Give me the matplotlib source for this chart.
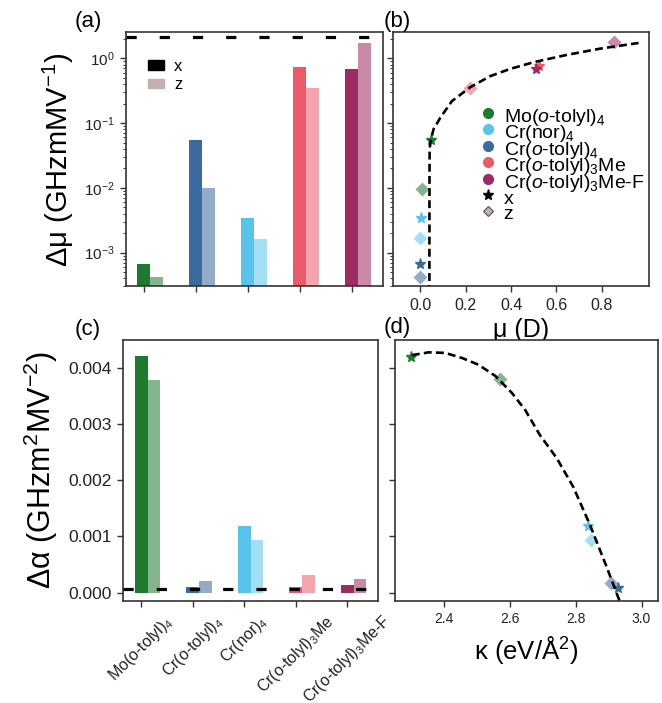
import matplotlib
matplotlib.use('Agg')
import matplotlib.pyplot as plt
from matplotlib.patches import Patch
from matplotlib.lines import Line2D

plt.rcParams['font.family'] = ['Liberation Sans', 'DejaVu Sans']
plt.rcParams['mathtext.fontset'] = 'custom'
plt.rcParams['mathtext.rm'] = 'Liberation Sans'
plt.rcParams['mathtext.it'] = 'Liberation Sans:italic'
plt.rcParams['mathtext.bf'] = 'Liberation Sans:bold'

# ---------------- data ----------------
tick_names = ['Mo(o-tolyl)$_4$', 'Cr(o-tolyl)$_4$', 'Cr(nor)$_4$',
              'Cr(o-tolyl)$_3$Me', 'Cr(o-tolyl)$_3$Me-F']
legend_names = ['Mo($o$-tolyl)$_4$', 'Cr($o$-tolyl)$_4$', 'Cr(nor)$_4$',
                'Cr($o$-tolyl)$_3$Me', 'Cr($o$-tolyl)$_3$Me-F']
colors = ['#1e7a2e', '#3b6a9d', '#58c3eb', '#eb5a6b', '#9d2a62']

# panel (a): dipole change (log)
dmu_x = [6.7e-4, 0.054, 3.4e-3, 0.745, 0.68]
dmu_z = [4.2e-4, 0.0098, 1.65e-3, 0.35, 1.74]
dmu_ref = 2.15

# panel (c): polarizability change
dalpha_x = [0.0042, 0.000107, 0.00119, 0.000100, 0.000137]
dalpha_z = [0.00378, 0.00021, 0.00094, 0.00032, 0.000243]
dalpha_ref = 0.00006

# panel (b): mu vs dmu (per compound, same order as above)
b_mu_x = [0.046, 0.000, 0.002, 0.522, 0.511]
b_dmu_x = [0.054, 6.7e-4, 3.46e-3, 0.77, 0.687]
b_mu_z = [0.009, 0.000, 0.000, 0.220, 0.853]
b_dmu_z = [0.0095, 4.2e-4, 1.66e-3, 0.35, 1.76]
fit_b_mu = [0.0395, 0.0398, 0.0402, 0.0407, 0.046, 0.0575, 0.0796, 0.087,
            0.139, 0.220, 0.308, 0.396, 0.500, 0.647, 0.794, 0.962]
fit_b_dmu = [1.0e-4, 6.5e-3, 0.025, 0.041, 0.054, 0.080, 0.108, 0.120,
             0.218, 0.358, 0.530, 0.685, 0.870, 1.13, 1.41, 1.72]

# panel (d): kappa vs dalpha (first three compounds)
d_kappa_x = [2.302, 2.929, 2.838]
d_alpha_x = [0.00419, 0.000089, 0.00119]
d_kappa_z = [2.572, 2.907, 2.847]
d_alpha_z = [0.00379, 0.000178, 0.00094]
fit_d_kappa = [2.304, 2.355, 2.405, 2.456, 2.506, 2.557, 2.607, 2.647,
               2.692, 2.743, 2.793, 2.844, 2.894, 2.940]
fit_d_alpha = [0.00422, 0.00427, 0.00426, 0.00417, 0.00405, 0.00385, 0.00355,
               0.00325, 0.00280, 0.00239, 0.00188, 0.00120, 0.00046, -0.00025]

bar_w = 0.25
z_alpha = 0.55
spine_c = '#333333'

fig = plt.figure(figsize=(6.62, 7.03), dpi=100)
axa = fig.add_axes([0.190, 0.5925, 0.3885, 0.3613])
axb = fig.add_axes([0.594, 0.5925, 0.387, 0.3613], sharey=axa)
axc = fig.add_axes([0.186, 0.1451, 0.385, 0.3713])
axd = fig.add_axes([0.5967, 0.1451, 0.3968, 0.3713], sharey=axc)

for ax in (axa, axb, axc, axd):
    for s in ax.spines.values():
        s.set_color(spine_c)
        s.set_linewidth(1.2)
    ax.tick_params(which='both', color=spine_c, labelcolor='#222222')
    ax.tick_params(which='major', length=4.5, width=1.0)
    ax.tick_params(which='minor', length=2.5, width=0.7)

pos = list(range(len(tick_names)))

# ---- (a)
for i in pos:
    axa.bar(i, dmu_x[i], bar_w, color=colors[i])
    axa.bar(i + bar_w, dmu_z[i], bar_w, color=colors[i], alpha=z_alpha)
axa.axhline(dmu_ref, color='k', lw=2.3, dashes=(3.2, 7.2), zorder=5)
axa.set_yscale('log')
axa.set_ylim(3.0e-4, 2.5)
axa.set_xticks(pos)
axa.set_xticklabels([])
axa.tick_params(axis='y', labelsize=11)
axa.set_ylabel('Δμ (GHzmMV$^{-1}$)', fontsize=21, labelpad=6)
axa.legend(handles=[Patch(color='black', label='x'),
                    Patch(color='#c4aeae', label='z')],
           loc='upper left', bbox_to_anchor=(0.085, 0.895), frameon=False,
           fontsize=12, handlelength=1.0, handleheight=0.5,
           labelspacing=0.2, handletextpad=0.6, borderpad=0.0, borderaxespad=0.0)

# ---- (b)
for i in pos:
    axb.plot(b_mu_x[i], b_dmu_x[i], marker='*', ms=8, color=colors[i], ls='none', zorder=3)
    axb.plot(b_mu_z[i], b_dmu_z[i], marker='D', ms=7, color=colors[i], alpha=z_alpha,
             ls='none', mec='none', zorder=3)
axb.plot(fit_b_mu, fit_b_dmu, color='k', lw=1.9, dashes=(3.0, 1.6), zorder=4)
axb.set_xlim(-0.12, 1.01)
axb.set_xticks([0.0, 0.2, 0.4, 0.6, 0.8])
axb.tick_params(axis='x', labelsize=11.5)
axb.tick_params(axis='y', labelleft=False)
axb.set_xlabel('μ (D)', fontsize=18, labelpad=4)
leg_order = [0, 2, 1, 3, 4]
handles_b = [Line2D([], [], marker='o', ls='none', color=colors[i], ms=7,
                    label=legend_names[i]) for i in leg_order]
handles_b.append(Line2D([], [], marker='*', ls='none', color='k', ms=8, label='x'))
handles_b.append(Line2D([], [], marker='D', ls='none', color='#c4aeae', mec='#555555',
                        mew=0.8, ms=5, label='z'))
axb.legend(handles=handles_b, loc='center right', bbox_to_anchor=(1.025, 0.482),
           frameon=False, fontsize=14, labelspacing=-0.37, handleheight=1.4,
           handletextpad=0.25, handlelength=1.1, borderaxespad=0.2)

# ---- (c)
for i in pos:
    axc.bar(i, dalpha_x[i], bar_w, color=colors[i])
    axc.bar(i + bar_w, dalpha_z[i], bar_w, color=colors[i], alpha=z_alpha)
axc.axhline(dalpha_ref, color='k', lw=2.3, dashes=(3.2, 7.2), zorder=5)
axc.set_ylim(-0.00015, 0.00449)
axc.set_yticks([0.0, 0.001, 0.002, 0.003, 0.004])
axc.set_yticklabels(['%.3f' % v for v in [0.0, 0.001, 0.002, 0.003, 0.004]])
axc.tick_params(axis='y', labelsize=12.5)
axc.set_xticks(pos)
axc.set_xticklabels(tick_names, rotation=45, fontsize=11.5)
axc.set_ylabel('Δα (GHzm$^{2}$MV$^{-2}$)', fontsize=22, labelpad=6)

# ---- (d)
for i in range(len(d_kappa_x)):
    axd.plot(d_kappa_x[i], d_alpha_x[i], marker='*', ms=8, color=colors[i], ls='none', zorder=3)
    axd.plot(d_kappa_z[i], d_alpha_z[i], marker='D', ms=7, color=colors[i], alpha=z_alpha,
             ls='none', mec='none', zorder=3)
axd.plot(fit_d_kappa, fit_d_alpha, color='k', lw=1.9, dashes=(3.0, 1.6), zorder=4)
axd.set_xlim(2.253, 3.049)
axd.set_xticks([2.4, 2.6, 2.8, 3.0])
axd.tick_params(axis='x', labelsize=10)
axd.tick_params(axis='y', labelleft=False)
axd.set_xlabel('κ (eV/Å$^{2}$)', fontsize=18.5, labelpad=6)

# panel letters
fig.text(0.133, 0.969, '(a)', fontsize=16, ha='center', va='center')
fig.text(0.600, 0.969, '(b)', fontsize=16, ha='center', va='center')
fig.text(0.132, 0.532, '(c)', fontsize=16, ha='center', va='center')
fig.text(0.600, 0.534, '(d)', fontsize=16, ha='center', va='center')

fig.savefig('out.png', dpi=100)
